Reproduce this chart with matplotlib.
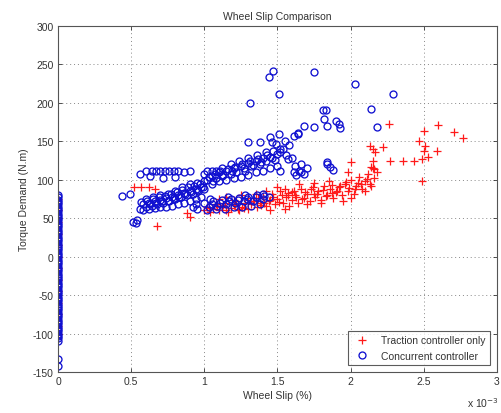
import matplotlib
matplotlib.use("Agg")
import matplotlib.pyplot as plt

plt.rcParams['font.family'] = ['Liberation Sans', 'DejaVu Sans']
plt.rcParams['axes.unicode_minus'] = False

# wheel slip in units of 1e-3, torque in N.m

# traction controller only (red +)
trac_col_y = [75, 60, 45, 30, 15, 0, -15, -30, -45, -60, -75, -90, -100]
trac_x = [0.52, 0.57, 0.62, 0.66, 0.68, 0.90, 0.88,
          1.00, 1.02, 1.04, 1.06, 1.08, 1.10, 1.12, 1.14, 1.16, 1.18, 1.20, 1.22, 1.24, 1.26, 1.28, 1.30,
          1.10, 1.15, 1.20, 1.25, 1.30,
          1.32, 1.34, 1.36, 1.38, 1.40, 1.42, 1.44, 1.46, 1.48, 1.50, 1.52, 1.54, 1.56, 1.58, 1.60,
          1.35, 1.42, 1.50, 1.55, 1.60, 1.45, 1.55,
          1.62, 1.64, 1.66, 1.68, 1.70, 1.72, 1.74, 1.76, 1.78, 1.80, 1.82, 1.84, 1.86, 1.88, 1.90,
          1.65, 1.75, 1.85, 1.70, 1.80,
          1.92, 1.94, 1.96, 1.98, 2.00, 2.02, 2.04, 2.06, 2.08, 2.10, 2.12, 2.14, 2.16, 2.18, 2.15,
          2.00, 2.10, 1.95, 1.98,
          2.26, 2.50, 2.60, 2.71, 2.77, 2.47, 2.51, 2.59, 2.50, 2.53, 2.43, 2.36, 2.27, 2.15,
          2.22, 2.15, 2.13, 2.17, 2.49, 2.00, 2.14, 2.49, 2.16,
          1.03, 1.09, 1.15, 1.21, 1.27, 1.33, 1.39, 1.45, 1.51, 1.57, 1.63, 1.69, 1.75, 1.81,
          1.87, 1.93, 1.99, 2.05, 2.11,
          1.13, 1.23, 1.37, 1.47, 1.57, 1.67, 1.77, 1.87, 1.97, 2.07,
          1.41, 1.53, 1.61, 1.73, 1.83, 1.91, 2.03, 2.13]
trac_y = [90, 90, 90, 88, 40, 52, 57,
          60, 65, 58, 62, 68, 60, 64, 70, 58, 63, 67, 72, 60, 65, 70, 62,
          75, 78, 74, 80, 76,
          68, 73, 64, 70, 78, 66, 72, 82, 68, 75, 85, 70, 78, 66, 74,
          82, 86, 90, 88, 84, 60, 62,
          80, 70, 88, 76, 82, 72, 90, 78, 86, 74, 92, 80, 88, 76, 84,
          95, 96, 98, 68, 70,
          90, 80, 95, 86, 100, 82, 92, 104, 88, 98, 108, 92, 102, 110, 115,
          76, 85, 72, 110,
          173, 164, 171, 162, 154, 151, 144, 138, 138, 130, 125, 125, 125, 125,
          143, 140, 144, 136, 127, 123, 117, 99, 114,
          63, 66, 61, 69, 63, 72, 67, 74, 71, 80, 77, 84, 81, 87,
          83, 92, 89, 96, 101,
          67, 62, 76, 78, 83, 75, 82, 93, 97, 94,
          70, 80, 86, 88, 79, 85, 88, 95]

# concurrent controller (blue o)
conc_col_y = [80, 77, 74, 71, 68, 65, 62, 59, 56, 53, 50, 47, 44, 41, 38, 35, 32, 29,
              26, 23, 20, 17, 14, 11, 8, 5, 2, -1, -4, -7, -10, -13, -16, -19, -22,
              -25, -28, -31, -34, -37, -40, -43, -46, -49, -52, -55, -58, -61, -64,
              -67, -70, -73, -76, -79, -82, -85, -88, -91, -94, -97, -100, -103,
              -106, -110, -133, -142]
conc_x = [0.44, 0.49, 0.51, 0.54, 0.53,
          0.56, 0.58, 0.60, 0.62, 0.64, 0.66, 0.68, 0.70, 0.72, 0.74, 0.76, 0.78, 0.80, 0.82,
          0.84, 0.86, 0.88, 0.90, 0.92, 0.94, 0.96, 0.98, 1.00,
          0.60, 0.65, 0.70, 0.75, 0.80, 0.85, 0.90, 0.95, 1.00,
          0.58, 0.62, 0.66, 0.70, 0.74, 0.78, 0.82, 0.86, 0.90, 0.94, 0.98,
          0.56, 0.60, 0.64, 0.67, 0.70, 0.73, 0.76, 0.79, 0.82, 0.86, 0.90, 0.63, 0.72, 0.80,
          1.02, 1.05, 1.08, 1.10, 1.12, 1.15, 1.18, 1.20, 1.22, 1.25, 1.28, 1.30, 1.32, 1.35,
          1.38, 1.40, 1.42, 1.45, 1.48, 1.50,
          1.05, 1.10, 1.15, 1.20, 1.25, 1.30, 1.35, 1.40, 1.45, 1.50,
          1.00, 1.08, 1.12, 1.18, 1.24, 1.30, 1.36, 1.42, 1.05, 1.02,
          1.30, 1.38, 1.46, 1.51, 1.64, 1.52, 1.57, 1.52, 1.61, 1.66, 1.84, 1.86, 1.88, 1.84,
          1.00, 1.03, 1.06, 1.09, 1.12, 1.15, 1.18, 1.21, 1.24, 1.27, 1.30, 1.33, 1.36, 1.40,
          1.44, 1.02, 1.08, 1.14, 1.20, 1.26, 1.32, 1.38, 0.95, 0.92, 0.94,
          1.54, 1.56, 1.58, 1.60, 1.55, 1.62, 1.65, 1.68, 1.70, 1.66, 1.63,
          1.31, 1.44, 1.47, 1.75, 2.03, 1.51, 2.29, 2.14, 2.18, 1.81, 1.83, 1.82, 1.84, 1.90,
          1.92, 1.93, 1.68, 1.75, 1.64, 1.61, 1.45, 1.49, 1.52,
          0.57, 0.61, 0.65, 0.69, 0.73, 0.77, 0.81, 0.85, 0.89, 0.93, 0.97,
          0.63, 0.67, 0.71, 0.75, 0.79, 0.83, 0.87, 0.91, 0.95, 0.99,
          1.03, 1.07, 1.11, 1.16, 1.21, 1.26, 1.31, 1.37, 1.43, 1.47,
          1.06, 1.13, 1.19, 1.27, 1.33, 1.39, 1.46,
          1.05, 1.11, 1.17, 1.23, 1.29, 1.35, 1.41, 1.04, 1.16, 1.28, 1.40]
conc_y = [79, 81, 45, 48, 44,
          62, 68, 65, 70, 66, 72, 68, 74, 70, 76, 72, 78, 75, 80,
          77, 83, 80, 86, 82, 88, 85, 90, 88,
          75, 78, 80, 82, 86, 90, 94, 96, 98,
          60, 62, 63, 64, 65, 66, 68, 70, 72, 75, 78,
          108, 112, 112, 112, 112, 112, 112, 112, 112, 110, 112, 105, 102, 104,
          100, 105, 102, 110, 105, 112, 108, 115, 110, 118, 112, 122, 118, 125,
          120, 128, 124, 130, 126, 133,
          95, 98, 100, 102, 104, 106, 110, 112, 115, 118,
          108, 112, 115, 120, 124, 128, 132, 136, 112, 112,
          149, 149, 149, 160, 160, 136, 127, 112, 110, 110, 120, 117, 113, 123,
          70, 65, 72, 66, 74, 68, 75, 70, 76, 72, 78, 73, 80, 75,
          78, 60, 62, 62, 64, 65, 66, 68, 62, 65, 68,
          140, 132, 145, 128, 150, 118, 112, 108, 115, 120, 106,
          200, 234, 242, 240, 225, 212, 212, 192, 169, 191, 191, 179, 170, 177,
          173, 167, 170, 169, 161, 157, 156, 147, 140,
          71, 73, 75, 77, 79, 82, 84, 87, 90, 92, 95,
          68, 70, 72, 73, 76, 78, 82, 84, 87, 91,
          103, 108, 111, 114, 116, 120, 125, 127, 132, 138,
          98, 106, 111, 115, 119, 123, 128,
          68, 70, 72, 74, 75, 77, 79, 75, 78, 80, 82]

xticks = [0, 0.5, 1, 1.5, 2, 2.5, 3]
xticklabels = ['0', '0.5', '1', '1.5', '2', '2.5', '3']
yticks = [-150, -100, -50, 0, 50, 100, 150, 200, 250, 300]

fig = plt.figure(figsize=(5.01, 4.14), dpi=100)
ax = fig.add_axes([0.1158, 0.099, 0.876, 0.836])

red = '#ff1a1a'
blue = '#1010d0'

ax.plot([0] * len(trac_col_y) + trac_x, trac_col_y + trac_y, '+', color=red,
        markersize=6, markeredgewidth=0.9, label='Traction controller only')
ax.plot([0] * len(conc_col_y) + conc_x, conc_col_y + conc_y, 'o', color=blue,
        markerfacecolor='none', markersize=5, markeredgewidth=0.95,
        label='Concurrent controller')

ax.set_xlim(0, 3)
ax.set_ylim(-150, 300)
ax.set_xticks(xticks)
ax.set_xticklabels(xticklabels)
ax.set_yticks(yticks)
ax.tick_params(direction='in', length=3, width=0.6, labelsize=7.5, top=True, right=True,
               colors='#333333', pad=3)
for s in ax.spines.values():
    s.set_color('#555555')
    s.set_linewidth(0.8)
ax.grid(True, linestyle=(0, (1, 3)), color='#888888', linewidth=0.7)
ax.set_axisbelow(True)

ax.set_title('Wheel Slip Comparison', fontsize=7.5, color='#333333', pad=5)
ax.set_xlabel('Wheel Slip (%)', fontsize=7.5, color='#333333', labelpad=3)
ax.set_ylabel('Torque Demand (N.m)', fontsize=7.5, color='#333333', labelpad=3)
fig.text(0.932, 0.015, r'x 10$^{-3}$', fontsize=7.5, color='#333333')

leg = ax.legend(loc='lower right', fontsize=7.5, frameon=True, fancybox=False,
                borderaxespad=0.7, handlelength=2.0, labelspacing=0.5)
leg.get_frame().set_edgecolor('#333333')
leg.get_frame().set_linewidth(0.8)
for t in leg.get_texts():
    t.set_color('#333333')

fig.savefig('out.png', dpi=100)
